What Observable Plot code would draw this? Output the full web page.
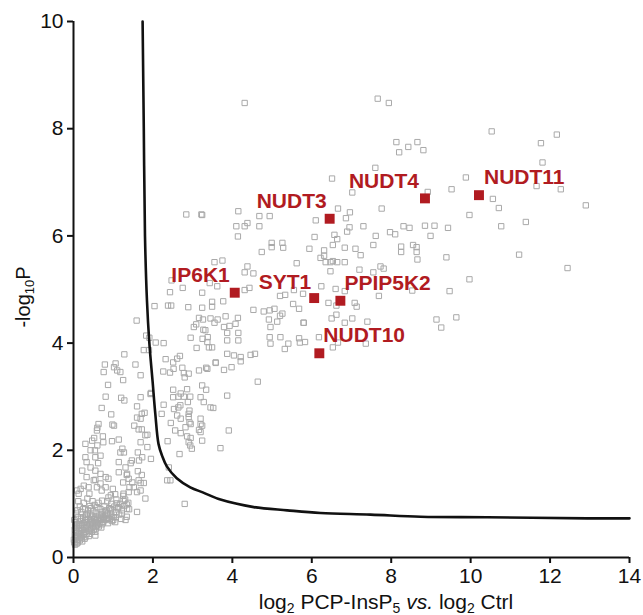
<!DOCTYPE html>
<html>
<head>
<meta charset="utf-8">
<script src="https://cdn.jsdelivr.net/npm/d3@7"></script>
<script src="https://cdn.jsdelivr.net/npm/@observablehq/plot@0.6"></script>
<style>
  html, body { margin: 0; padding: 0; background: #fff; }
  svg { display: block; }
</style>
</head>
<body>
<div id="chart"></div>
<script>
// ---------- data ----------
const xTicks = [0, 2, 4, 6, 8, 10, 12, 14];
const yTicks = [0, 2, 4, 6, 8, 10];

// highlighted proteins
const hitGenes = ["IP6K1", "SYT1", "PPIP5K2", "NUDT10", "NUDT3", "NUDT4", "NUDT11"];
const hitX = [4.06, 6.06, 6.72, 6.19, 6.45, 8.85, 10.21];
const hitY = [4.94, 4.84, 4.79, 3.81, 6.32, 6.70, 6.76];

// significance cut-off curve
const cutoffX = [1.74, 1.77, 1.80, 1.85, 1.91, 1.99, 2.06, 2.14, 2.23, 2.35, 2.60, 2.94, 3.27, 3.70, 4.54, 5.38, 6.22, 7.48, 8.74, 10.42, 12.94, 14.0];
const cutoffY = [10.0, 8.0, 6.0, 4.79, 4.00, 3.30, 2.68, 2.12, 1.90, 1.70, 1.48, 1.31, 1.21, 1.08, 0.94, 0.88, 0.83, 0.80, 0.76, 0.75, 0.73, 0.73];

// all other quantified proteins [log2 ratio, -log10 P]
const upperProteins = [
  [4.31,8.48],[7.66,8.56],[7.94,8.48],[10.53,7.95],[12.17,7.89],[11.77,7.73],[8.13,7.75],[8.66,7.75],[8.43,7.66],[8.20,7.56],
  [8.81,7.60],[11.81,7.37],[7.60,7.27],[6.51,7.07],[9.88,7.09],[11.66,6.93],[12.27,6.87],[9.52,6.87],[8.92,6.82],[7.02,6.81],
  [12.90,6.57],[10.56,6.69],[10.71,6.52],[9.97,6.39],[7.76,6.51],[6.66,6.51],[6.96,6.44],[6.86,6.33],[6.10,6.29],[4.15,6.46],
  [4.68,6.37],[4.94,6.37],[3.24,6.39],[4.10,6.18],[4.31,6.18],[4.38,6.24],[4.68,6.18],[4.14,5.99],[6.95,6.16],[6.89,6.08],
  [7.30,6.18],[8.31,6.18],[8.46,6.15],[8.85,6.19],[9.09,6.19],[9.43,6.15],[10.77,6.18],[11.39,6.26],[7.97,6.07],[8.10,6.03],
  [7.61,6.00],[8.99,6.00],[6.07,5.98],[6.57,6.02],[6.64,5.94],[4.99,5.87],[5.26,5.87],[4.99,5.79],[5.28,5.78],[4.74,5.70],
  [5.94,5.76],[6.53,5.83],[6.83,5.78],[7.10,5.76],[7.23,5.64],[7.55,5.83],[8.25,5.80],[8.25,5.70],[8.55,5.83],[8.64,5.79],
  [8.64,5.70],[8.66,5.56],[9.39,5.60],[11.22,5.65],[12.44,5.40],[6.31,5.73],[6.22,5.59],[6.31,5.63],[6.35,5.51],[6.47,5.51],
  [6.53,5.53],[6.64,5.51],[6.83,5.51],[6.47,5.34],[5.62,5.49],[3.55,5.51],[3.75,5.54],[7.20,5.37],[7.55,5.32],[7.73,5.43],
  [7.81,5.39],[4.38,5.43],[4.31,5.32],[4.53,5.30],[9.97,5.19],[9.47,4.97],[8.53,4.98],[7.69,4.88],[6.60,5.01],[6.83,4.97],
  [6.24,5.06],[5.55,4.99],[5.78,4.92],[5.20,4.88],[5.33,4.90],[4.31,4.99],[4.43,5.03],[3.24,4.94],[3.62,5.06],[3.49,4.77],
  [3.49,4.68],[3.77,4.78],[3.24,4.66],[4.53,4.62],[4.79,4.59],[4.94,4.61],[5.06,4.64],[4.92,4.44],[5.20,4.51],[5.13,4.40],
  [5.53,4.73],[5.68,4.64],[6.42,4.75],[6.62,4.70],[7.08,4.75],[7.13,4.68],[6.50,4.46],[6.62,4.53],[7.02,4.46],[6.83,4.38],
  [7.40,4.40],[9.14,4.44],[9.26,4.29],[9.64,4.48],[5.79,4.38],[4.94,4.11],[5.21,4.11],[4.96,3.99],[5.41,3.99],[5.32,3.89],
  [5.68,4.09],[5.83,4.02],[5.70,4.01],[6.18,4.11],[6.53,3.92],[6.66,4.01],[7.36,3.99],[5.26,4.55],[5.80,4.38],[4.96,4.30],
  [3.16,4.47],[3.26,4.44],[3.45,4.46],[3.55,4.38],[3.83,4.50],[4.14,4.47],[3.79,4.30],[3.93,4.32],[3.87,4.19],[4.15,4.19],
  [3.32,4.24],[3.38,4.11],[3.03,4.30],[3.09,4.35],[3.27,4.25],[4.08,4.36],[3.63,4.44],[3.87,4.05],[4.15,4.05],[3.87,3.80],
  [4.04,3.77],[4.21,3.74],[4.21,3.66],[4.46,3.78],[4.57,3.80],[3.58,3.63],[3.79,3.50],[3.98,3.55],[3.34,3.54],[3.24,3.21],
  [3.34,3.13],[4.64,3.28],[3.87,3.02],[2.84,6.40],[3.22,6.40],[2.47,5.17],[3.43,5.12],[2.75,5.03],[2.43,4.95],[2.04,4.69],
  [2.38,4.70],[2.46,4.70],[2.89,4.67],[1.59,4.42],[2.95,4.10],[3.25,4.08],[3.37,4.02],[3.41,3.92],[3.49,3.92],[3.10,3.91],
  [1.83,4.14],[1.91,4.10],[2.07,4.01],[1.77,3.87],[1.90,3.87],[2.27,4.00],[2.32,3.70],[2.51,3.64],[2.61,3.71],[2.68,3.76],
  [2.26,3.47],[2.43,3.45],[2.52,3.52],[2.74,3.54],[2.78,3.44],[2.90,3.43],[2.80,3.36],[3.16,3.49],[3.37,3.52],[3.58,3.64]
];
const middleProteins = [
  [2.51,3.13],[2.86,3.14],[2.70,3.06],[2.51,2.99],[2.64,3.00],[2.78,3.00],[2.94,3.00],[3.20,2.99],[2.88,2.90],[3.28,2.90],
  [2.64,2.80],[2.53,2.77],[2.69,2.84],[2.27,2.85],[1.94,3.05],[2.61,2.65],[2.70,2.59],[2.90,2.62],[2.82,2.43],[3.20,2.59],
  [3.24,2.46],[3.16,2.38],[2.70,2.32],[2.86,2.26],[2.95,2.23],[2.90,2.15],[3.20,2.34],[3.24,2.18],[2.67,1.93],[2.40,1.68],
  [2.36,1.44],[2.44,1.44],[2.45,2.51],[2.92,2.52],[2.95,2.49],[2.56,2.37],[2.37,2.17],[2.94,2.09],[2.98,2.03],[3.45,2.80],
  [3.52,2.79],[3.91,2.37],[3.70,2.04],[3.20,2.49],[2.80,1.00],[2.92,2.74],[2.90,2.68],
  [1.28,3.79],[0.79,3.60],[1.06,3.62],[1.02,3.55],[0.76,3.46],[1.10,3.49],[1.18,3.46],[1.56,3.60],[1.69,3.40],[0.87,3.22],
  [1.25,3.31],[0.81,3.00],[1.20,2.98],[1.28,2.93],[1.69,2.99],[1.95,3.07],[0.71,2.79],[0.95,2.67],[1.60,2.82],[1.72,2.68],
  [1.79,2.70],[1.60,2.61],[1.69,2.59],[2.22,2.68],
  [0.98,2.48],[1.02,2.46],[0.63,2.49],[0.60,2.42],[1.53,2.46],[1.64,2.39],[1.72,2.39],[1.86,2.29],[0.59,2.37],[0.74,2.26],
  [0.52,2.23],[0.47,2.18],[0.30,2.12],[0.60,2.09],[0.75,2.15],[0.97,2.17],[1.14,2.20],[1.23,2.03],[1.18,1.96],[1.27,1.96],
  [1.69,2.15],[1.81,2.28],[1.86,2.06],[1.62,1.96],[1.65,1.81],[1.73,1.87],[1.95,1.84],[0.43,2.00],[0.54,2.00],[0.30,1.87],
  [0.55,1.87],[0.68,1.90],[0.33,1.78],[0.43,1.68],[0.62,1.76],[0.55,1.62],[0.22,1.62],[0.33,1.50],[0.81,1.50],[0.68,1.56],
  [1.14,1.78],[1.31,1.68],[1.14,1.59],[1.35,1.56],[1.44,1.76],[1.47,1.81],[1.62,1.61],[1.72,1.54],[1.34,1.54]
];
const lowerProteins = [
  [1.39,1.47],[1.25,1.40],[1.48,1.40],[1.52,1.31],[1.69,1.39],[1.77,1.39],[1.60,1.22],[1.69,1.25],[1.81,1.10],[1.60,0.85],
  [1.31,0.70],[1.06,0.75],[1.35,0.91],[1.64,1.44],[1.41,1.31],[0.51,1.44],[0.68,1.38],[0.81,1.31],[0.26,1.34],[0.18,1.28],
  [0.09,1.25],[0.55,1.45],[0.88,1.47],[0.59,1.31],[0.38,1.31],[0.13,1.19],[0.40,1.19],[0.71,1.25],[0.99,1.28],[0.94,1.16],
  [1.05,1.18],[1.26,1.19],[1.39,1.22],[1.26,1.06],[1.34,0.99],[1.09,1.01],[1.13,0.94],[1.34,0.76],[1.22,0.82],[1.01,0.75],
  [1.05,0.66],[0.84,0.72]
];
const clusterProteins = [
  [0.02,0.28],[0.05,0.35],[0.08,0.30],[0.03,0.42],[0.10,0.40],[0.06,0.50],[0.12,0.33],[0.15,0.45],[0.04,0.58],[0.09,0.62],
  [0.14,0.55],[0.18,0.38],[0.20,0.50],[0.22,0.60],[0.17,0.68],[0.11,0.75],[0.07,0.82],[0.02,0.70],[0.25,0.42],[0.27,0.55],
  [0.30,0.48],[0.28,0.66],[0.24,0.74],[0.20,0.85],[0.33,0.60],[0.35,0.72],[0.32,0.80],[0.38,0.50],[0.40,0.62],[0.42,0.70],
  [0.37,0.88],[0.45,0.55],[0.47,0.78],[0.44,0.92],[0.50,0.64],[0.52,0.72],[0.55,0.58],[0.58,0.82],[0.53,0.98],[0.60,0.70],
  [0.62,0.62],[0.65,0.78],[0.68,0.90],[0.63,1.02],[0.70,0.72],[0.73,0.84],[0.75,0.66],[0.78,0.95],[0.80,0.78],[0.83,0.88],
  [0.85,1.05],[0.88,0.74],[0.90,0.92],[0.93,0.82],[0.95,1.00],[0.98,0.88],[1.00,0.70],[1.03,0.95],[1.06,0.84],[1.08,1.08],
  [1.12,0.92],[1.15,0.80],[1.18,1.00],[0.16,0.95],[0.26,1.02],[0.12,1.05],[0.35,1.10],[0.48,1.05],[0.22,0.30],[0.30,0.38],
  [0.40,0.44],[0.55,0.48],[0.70,0.56],[0.08,0.55],[0.18,0.60],[0.34,0.66],[0.46,0.66],[0.57,0.66],[0.66,0.70],[0.76,0.74],
  [0.86,0.82],[0.96,0.76],[0.29,0.90],[0.41,0.96],[0.60,0.94],[0.72,1.06],[0.88,1.12],[1.22,0.88],[1.28,0.96],[1.30,1.08],
  [1.25,1.15],[1.38,1.02],[1.20,0.72],[1.40,0.90],[0.55,0.41],[0.08,0.26],
  [0.01,0.33],[0.04,0.24],[0.06,0.38],[0.09,0.46],[0.11,0.28],[0.13,0.50],[0.16,0.32],[0.19,0.44],[0.21,0.36],[0.23,0.52],
  [0.26,0.47],[0.28,0.35],[0.31,0.55],[0.33,0.44],[0.36,0.58],[0.39,0.40],[0.41,0.52],[0.43,0.62],[0.46,0.48],[0.49,0.58],
  [0.51,0.52],[0.54,0.66],[0.56,0.54],[0.59,0.60],[0.61,0.74],[0.64,0.58],[0.67,0.64],[0.69,0.80],[0.72,0.62],[0.74,0.76],
  [0.77,0.70],[0.79,0.86],[0.82,0.70],[0.84,0.80],[0.87,0.64],[0.91,0.72],[0.94,0.90],[0.97,0.68],[0.14,0.62],[0.19,0.72],
  [0.25,0.64],[0.29,0.76],[0.36,0.82],[0.42,0.80],[0.50,0.86],[0.56,0.76],[0.05,0.66],[0.10,0.88],[0.03,0.52],[0.24,0.90],
  [0.31,0.70],[0.45,0.72]
];

// ---------- build tables ----------
const hits = hitGenes.map((gene, i) => ({gene, x: hitX[i], y: hitY[i]}));
const cutoff = cutoffX.map((x, i) => ({x, y: cutoffY[i]}));
const others = [...upperProteins, ...middleProteins, ...lowerProteins, ...clusterProteins].map(([x, y]) => ({x, y}));

// label placement (style, not data)
const labelPlacement = {
  IP6K1:   {anchor: "end",   dx: -5, dy: -17},
  SYT1:    {anchor: "end",   dx: -3, dy: -16},
  PPIP5K2: {anchor: "start", dx: 4,  dy: -17},
  NUDT10:  {anchor: "start", dx: 4,  dy: -18},
  NUDT3:   {anchor: "end",   dx: -3, dy: -17},
  NUDT4:   {anchor: "end",   dx: -6, dy: -17},
  NUDT11:  {anchor: "start", dx: 5,  dy: -18}
};

const font = "'Liberation Sans', Arial, Helvetica, sans-serif";
const red = "#b11b21";
const gray = "#a9a9a9";

const chart = Plot.plot({
  width: 643,
  height: 615,
  marginLeft: 73,
  marginRight: 14,
  marginTop: 21,
  marginBottom: 58,
  style: {fontFamily: font, background: "#fff", color: "#111"},
  x: {domain: [0, 14]},
  y: {domain: [0, 10]},
  marks: [
    Plot.dot(others, {x: "x", y: "y", symbol: "square", r: 3.0, stroke: gray, strokeWidth: 1, fill: "none"}),
    Plot.line(cutoff, {x: "x", y: "y", stroke: "#111", strokeWidth: 2.6, curve: "catmull-rom"}),
    Plot.dot(hits, {x: "x", y: "y", symbol: "square", r: 5.6, fill: red, stroke: "none"}),
    ...hits.map(h => {
      const p = labelPlacement[h.gene];
      return Plot.text([h], {x: "x", y: "y", text: "gene", textAnchor: p.anchor, dx: p.dx, dy: p.dy,
        fill: red, fontSize: 21, fontWeight: "bold"});
    }),
    Plot.ruleY([0], {stroke: "#111", strokeWidth: 2}),
    Plot.ruleX([0], {stroke: "#111", strokeWidth: 2}),
    Plot.axisX({ticks: xTicks, tickSize: 6, tickPadding: 5, fontSize: 21, strokeWidth: 2, label: null, tickFormat: d => String(d)}),
    Plot.axisY({ticks: yTicks, tickSize: 6, tickPadding: 4, fontSize: 21, strokeWidth: 2, label: null, tickFormat: d => String(d)})
  ]
});

document.getElementById("chart").appendChild(chart);

// axis titles with sub-scripts and italics
const svg = d3.select(chart);
const xt = svg.append("text")
  .attr("x", 386).attr("y", 609)
  .attr("text-anchor", "middle")
  .attr("font-family", font).attr("font-size", 21).attr("fill", "#111");
xt.append("tspan").text("log");
xt.append("tspan").attr("dy", 4).attr("font-size", 14).text("2");
xt.append("tspan").attr("dy", -4).text(" PCP-InsP");
xt.append("tspan").attr("dy", 4).attr("font-size", 14).text("5");
xt.append("tspan").attr("dy", -4).text(" ");
xt.append("tspan").attr("font-style", "italic").text("vs.");
xt.append("tspan").text(" log");
xt.append("tspan").attr("dy", 4).attr("font-size", 14).text("2");
xt.append("tspan").attr("dy", -4).text(" Ctrl");

const yt = svg.append("text")
  .attr("transform", "translate(30,297) rotate(-90)")
  .attr("text-anchor", "middle")
  .attr("font-family", font).attr("font-size", 20).attr("fill", "#111");
yt.append("tspan").text("-log");
yt.append("tspan").attr("dy", 4).attr("font-size", 13).text("10");
yt.append("tspan").attr("dy", -4).text("P");
</script>
</body>
</html>
